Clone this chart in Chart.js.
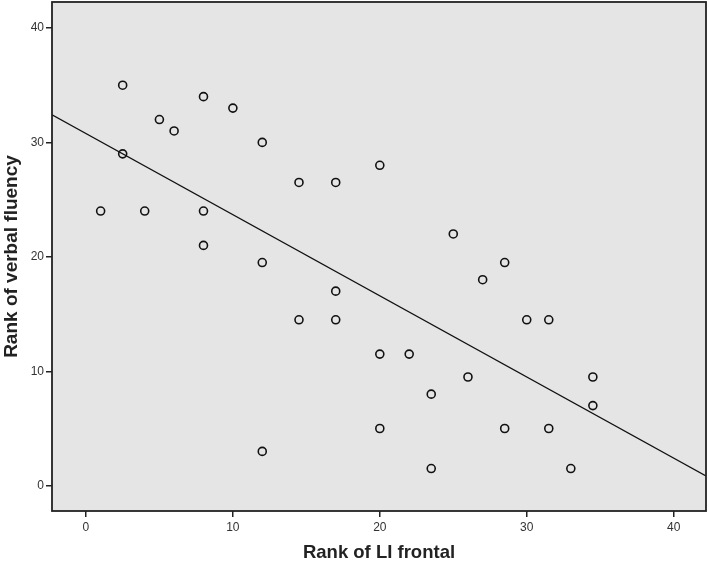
<!DOCTYPE html>
<html>
<head>
<meta charset="utf-8">
<script src="https://cdn.jsdelivr.net/npm/chart.js@4"></script>
<style>
  html, body { margin: 0; padding: 0; background: #fff; }
  #wrap { width: 709px; height: 570px; }
</style>
</head>
<body>
<div id="wrap"><canvas id="scatterChart"></canvas></div>
<script>
// Rank of LI frontal vs rank of verbal fluency
const rankLI = [1, 2.5, 2.5, 4, 5, 6, 8, 8, 8, 10, 12, 12, 12, 14.5, 14.5, 17, 17, 17,
  20, 20, 20, 22, 23.5, 23.5, 25, 26, 27, 28.5, 28.5, 30, 31.5, 31.5, 33, 34.5, 34.5];
const rankFluency = [24, 35, 29, 24, 32, 31, 34, 24, 21, 33, 30, 19.5, 3, 26.5, 14.5, 26.5, 17, 14.5,
  28, 11.5, 5, 11.5, 8, 1.5, 22, 9.5, 18, 19.5, 5, 14.5, 14.5, 5, 1.5, 9.5, 7];

// fit line, read at the left and right edges of the plot
const fitX = [-2.31, 42.2];
const fitY = [32.42, 0.86];

const xTicks = [0, 10, 20, 30, 40];
const yTicks = [0, 10, 20, 30, 40];

const FONT = "'Liberation Sans', Arial, sans-serif";

// grey plot background + frame
const framePlugin = {
  id: "frame",
  beforeDraw(chart) {
    const { ctx, chartArea: a } = chart;
    ctx.save();
    ctx.fillStyle = "#e5e5e5";
    ctx.fillRect(a.left, a.top, a.right - a.left, a.bottom - a.top);
    ctx.restore();
  },
  afterDraw(chart) {
    const { ctx, chartArea: a } = chart;
    ctx.save();
    ctx.strokeStyle = "#222";
    ctx.lineWidth = 1.8;
    ctx.strokeRect(a.left, a.top, a.right - a.left, a.bottom - a.top);
    ctx.restore();
  },
};

const ctx = document.getElementById("scatterChart");
new Chart(ctx, {
  type: "scatter",
  data: {
    datasets: [
      {
        data: rankLI.map((x, i) => ({ x: x, y: rankFluency[i] })),
        pointStyle: "circle",
        pointRadius: 4,
        pointBorderWidth: 1.6,
        pointBorderColor: "#111",
        pointBackgroundColor: "rgba(0,0,0,0)",
        pointHoverRadius: 4,
      },
      {
        type: "line",
        data: fitX.map((x, i) => ({ x: x, y: fitY[i] })),
        borderColor: "#111",
        borderWidth: 1.3,
        pointRadius: 0,
        fill: false,
      },
    ],
  },
  options: {
    responsive: true,
    maintainAspectRatio: false,
    animation: false,
    layout: { autoPadding: false, padding: { top: 2, right: 3, left: 0, bottom: 0 } },
    plugins: {
      legend: { display: false },
      tooltip: { enabled: false },
    },
    scales: {
      x: {
        type: "linear",
        min: -2.31,
        max: 42.2,
        afterBuildTicks: (s) => { s.ticks = xTicks.map((v) => ({ value: v })); },
        afterFit: (s) => { s.height = 59; s.paddingLeft = 0; s.paddingRight = 0; },
        border: { display: false },
        grid: { drawOnChartArea: false, drawTicks: true, tickLength: 6, color: "#222", lineWidth: 1.5 },
        ticks: { color: "#333", padding: 3, font: { family: FONT, size: 12 } },
        title: {
          display: true,
          text: "Rank of LI frontal",
          color: "#222",
          font: { family: FONT, size: 18.5, weight: "bold" },
          padding: { top: 0, bottom: 6 },
        },
      },
      y: {
        type: "linear",
        min: -2.21,
        max: 42.27,
        afterBuildTicks: (s) => { s.ticks = yTicks.map((v) => ({ value: v })); },
        afterFit: (s) => { s.width = 52; s.paddingTop = 0; s.paddingBottom = 0; },
        border: { display: false },
        grid: { drawOnChartArea: false, drawTicks: true, tickLength: 6, color: "#222", lineWidth: 1.5 },
        ticks: { color: "#333", padding: 2, font: { family: FONT, size: 12 } },
        title: {
          display: true,
          text: "Rank of verbal fluency",
          color: "#222",
          font: { family: FONT, size: 19, weight: "bold" },
          padding: { top: 0, bottom: 0 },
        },
      },
    },
  },
  plugins: [framePlugin],
});
</script>
</body>
</html>
